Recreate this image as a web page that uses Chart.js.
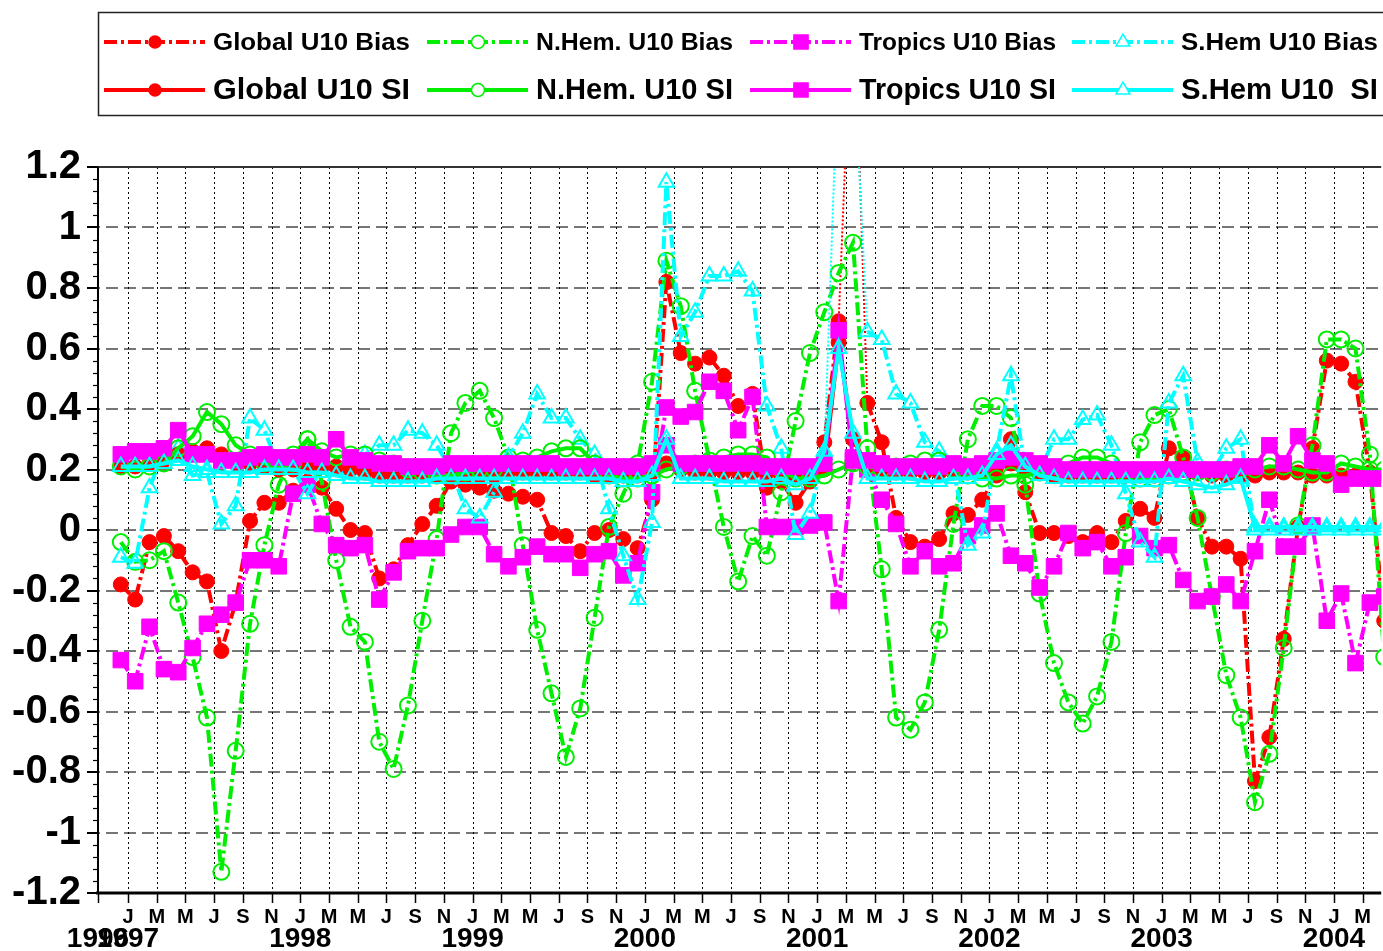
<!DOCTYPE html>
<html>
<head>
<meta charset="utf-8">
<script src="https://cdn.jsdelivr.net/npm/chart.js@4.4.1/dist/chart.umd.min.js"></script>
<style>
  html, body { margin: 0; padding: 0; background: #fff; }
  #wrap { width: 1383px; height: 951px; }
</style>
</head>
<body>
<div id="wrap"><canvas id="myChart" width="1383" height="951"></canvas></div>
<script>
'use strict';

// x is counted in months from Jan 1997; first value of every series is Dec 1996
let firstMonth = -1;
let monthLetters = ['J','F','M','A','M','J','J','A','S','O','N','D'];
let yearLabels = ['1996','1997','1998','1999','2000','2001','2002','2003','2004'];
let seriesNames = ['Global U10 Bias','N.Hem. U10 Bias','Tropics U10 Bias','S.Hem U10 Bias',
                   'Global U10 SI','N.Hem. U10 SI','Tropics U10 SI','S.Hem U10  SI'];

let globalBias = [-0.18,
  -0.23,-0.04,-0.02,-0.07,-0.14,-0.17,-0.40,-0.24,0.03,0.09,0.09,0.13,
  0.16,0.14,0.07,0.00,-0.01,-0.16,-0.13,-0.05,0.02,0.08,0.16,0.15,
  0.14,0.13,0.12,0.11,0.10,-0.01,-0.02,-0.07,-0.01,0.00,-0.03,-0.06,
  0.10,0.82,0.585,0.55,0.57,0.51,0.41,0.45,0.14,0.16,0.09,0.16,
  0.29,0.69,1.85,0.42,0.29,0.04,-0.04,-0.055,-0.03,0.055,0.05,0.10,
  0.18,0.30,0.125,-0.01,-0.01,-0.02,-0.04,-0.01,-0.04,0.03,0.07,0.04,
  0.27,0.24,0.04,-0.055,-0.055,-0.095,-0.83,-0.685,-0.36,0.01,0.27,0.56,
  0.55,0.49,0.19,-0.30];
let nhBias = [-0.04,
  -0.105,-0.10,-0.07,-0.24,-0.42,-0.62,-1.13,-0.73,-0.31,-0.05,0.15,0.25,
  0.30,0.16,-0.10,-0.32,-0.37,-0.70,-0.79,-0.58,-0.30,-0.03,0.32,0.42,
  0.46,0.37,0.24,-0.05,-0.33,-0.54,-0.75,-0.59,-0.29,0.01,0.12,0.22,
  0.49,0.89,0.74,0.46,0.23,0.01,-0.17,-0.02,-0.085,0.125,0.36,0.585,
  0.72,0.85,0.95,0.27,-0.13,-0.62,-0.66,-0.57,-0.33,0.02,0.30,0.41,
  0.41,0.37,0.15,-0.21,-0.44,-0.57,-0.64,-0.55,-0.37,-0.01,0.29,0.38,
  0.40,0.24,0.04,-0.22,-0.48,-0.62,-0.90,-0.74,-0.39,0.015,0.28,0.63,
  0.63,0.60,0.25,-0.42];
let tropBias = [-0.43,
  -0.50,-0.32,-0.46,-0.47,-0.39,-0.31,-0.28,-0.24,-0.10,-0.10,-0.12,0.12,
  0.15,0.02,-0.05,-0.06,-0.05,-0.23,-0.14,-0.07,-0.06,-0.06,-0.015,0.01,
  0.01,-0.08,-0.12,-0.09,-0.055,-0.08,-0.08,-0.125,-0.08,-0.07,-0.15,-0.11,
  0.125,0.405,0.375,0.39,0.49,0.46,0.33,0.44,0.01,0.01,0.01,0.015,
  0.025,-0.235,0.24,0.20,0.10,0.02,-0.12,-0.07,-0.12,-0.11,-0.02,0.015,
  0.055,-0.085,-0.11,-0.19,-0.12,-0.01,-0.06,-0.04,-0.12,-0.09,-0.02,-0.06,
  -0.05,-0.165,-0.235,-0.22,-0.18,-0.235,-0.07,0.10,-0.055,-0.055,0.015,-0.30,
  -0.21,-0.44,-0.24,-0.22];
let shBias = [-0.09,
  -0.11,0.14,0.26,0.27,0.18,0.19,0.02,0.08,0.37,0.33,0.21,0.20,
  0.12,0.20,0.18,0.20,0.25,0.28,0.28,0.33,0.32,0.28,0.20,0.07,
  0.04,0.125,0.24,0.32,0.45,0.37,0.37,0.30,0.25,0.07,-0.085,-0.23,
  0.025,1.15,0.64,0.72,0.84,0.84,0.855,0.79,0.41,0.27,-0.015,0.055,
  0.25,1.6,1.6,0.655,0.63,0.45,0.42,0.29,0.26,0.20,-0.05,-0.01,
  0.26,0.51,0.20,0.195,0.30,0.30,0.365,0.38,0.28,0.12,-0.04,-0.09,
  0.42,0.51,0.225,0.19,0.27,0.30,0.00,0.00,0.00,0.00,0.00,0.00,
  0.00,0.00,0.00,0.00];
let globalSI = [0.21,
  0.21,0.22,0.23,0.25,0.26,0.27,0.25,0.22,0.22,0.21,0.20,0.20,
  0.21,0.21,0.21,0.20,0.19,0.18,0.18,0.18,0.18,0.18,0.18,0.18,
  0.18,0.18,0.19,0.19,0.19,0.19,0.19,0.19,0.18,0.18,0.18,0.18,
  0.19,0.22,0.20,0.19,0.19,0.19,0.19,0.19,0.19,0.18,0.17,0.18,
  0.20,0.62,0.30,0.21,0.20,0.19,0.19,0.19,0.19,0.19,0.19,0.19,
  0.21,0.22,0.20,0.19,0.18,0.18,0.18,0.18,0.18,0.18,0.18,0.18,
  0.19,0.20,0.19,0.18,0.18,0.18,0.18,0.19,0.19,0.19,0.18,0.18,
  0.18,0.18,0.18,0.18];
let nhSI = [0.21,
  0.20,0.21,0.22,0.27,0.31,0.39,0.35,0.28,0.25,0.22,0.21,0.22,
  0.30,0.26,0.24,0.25,0.25,0.23,0.22,0.20,0.19,0.18,0.18,0.19,
  0.20,0.20,0.22,0.23,0.24,0.26,0.27,0.27,0.22,0.18,0.17,0.17,
  0.18,0.20,0.21,0.22,0.22,0.24,0.25,0.25,0.24,0.20,0.17,0.17,
  0.18,0.20,0.22,0.21,0.20,0.21,0.22,0.23,0.23,0.20,0.18,0.17,
  0.17,0.18,0.18,0.19,0.20,0.22,0.24,0.24,0.22,0.19,0.17,0.17,
  0.18,0.19,0.19,0.19,0.20,0.20,0.20,0.21,0.21,0.20,0.19,0.19,
  0.22,0.21,0.20,0.20];
let tropSI = [0.25,
  0.26,0.26,0.27,0.33,0.25,0.25,0.23,0.23,0.24,0.25,0.24,0.24,
  0.25,0.24,0.30,0.24,0.23,0.22,0.22,0.21,0.21,0.21,0.22,0.22,
  0.22,0.22,0.22,0.22,0.22,0.22,0.21,0.21,0.21,0.21,0.21,0.21,
  0.22,0.28,0.22,0.22,0.22,0.22,0.22,0.22,0.21,0.21,0.21,0.21,
  0.22,0.66,0.23,0.23,0.22,0.21,0.21,0.21,0.21,0.22,0.21,0.22,
  0.23,0.24,0.23,0.22,0.21,0.20,0.20,0.20,0.20,0.20,0.20,0.20,
  0.20,0.20,0.20,0.20,0.20,0.21,0.21,0.28,0.22,0.31,0.23,0.22,
  0.15,0.17,0.17,0.17];
let shSI = [0.21,
  0.21,0.21,0.22,0.23,0.21,0.20,0.19,0.19,0.19,0.20,0.20,0.20,
  0.19,0.19,0.18,0.17,0.17,0.16,0.16,0.16,0.16,0.17,0.17,0.17,
  0.17,0.17,0.17,0.17,0.17,0.17,0.17,0.17,0.17,0.17,0.16,0.16,
  0.18,0.30,0.17,0.17,0.17,0.16,0.16,0.16,0.16,0.17,0.15,0.17,
  0.26,0.60,0.32,0.17,0.17,0.17,0.17,0.16,0.16,0.17,0.17,0.18,
  0.25,0.28,0.21,0.18,0.17,0.16,0.16,0.16,0.16,0.16,0.16,0.16,
  0.17,0.16,0.15,0.14,0.15,0.17,0.01,0.01,0.01,0.01,0.01,0.01,
  0.01,0.01,0.01,0.01];

let yMin = -1.2, yMax = 1.2;
let xMin = -2.09, xMax = 87.29;
let tickMonths = [];
for (let m = 0; m <= 86; m += 2) tickMonths.push(m);
let yTicks = [];
for (let i = -6; i <= 6; i++) yTicks.push(i / 5);

let fam = '"Liberation Sans", Arial, Helvetica, sans-serif';
let red = '#ff0000', green = '#00ee00', magenta = '#ff00ff', cyan = '#00ffff';
let biasDash = [13, 4, 3, 4];

function toPoints(values) {
    let pts = [];
    for (let i = 0; i < values.length; i++) {
        pts.push({x: firstMonth + i + 0.5, y: values[i]});
    }
    return pts;
}

// segments running to a value above the top of the axis are drawn thin and dotted
function offTop(ctx) {
    return ctx.p0.parsed.y > yMax || ctx.p1.parsed.y > yMax;
}

let markers = [
    {pointStyle: 'circle', radius: 7.5, fill: red, color: red, bw: 1, key: 6},
    {pointStyle: 'circle', radius: 8, fill: 'rgba(0,0,0,0)', color: green, bw: 2, key: 6.5},
    {pointStyle: 'rect', radius: 11, fill: magenta, color: magenta, bw: 1, key: 10},
    {pointStyle: 'triangle', radius: 9, fill: 'rgba(0,0,0,0)', color: cyan, bw: 2, key: 8}
];
let allValues = [globalBias, nhBias, tropBias, shBias, globalSI, nhSI, tropSI, shSI];

let datasets = [];
for (let i = 0; i < allValues.length; i++) {
    let mk = markers[i % 4];
    let isBias = i < 4;
    datasets.push({
        label: seriesNames[i],
        data: toPoints(allValues[i]),
        borderColor: mk.color,
        borderWidth: 4,
        borderDash: isBias ? biasDash : [],
        pointStyle: mk.pointStyle,
        pointRadius: mk.radius,
        pointBackgroundColor: mk.fill,
        pointBorderColor: mk.color,
        pointBorderWidth: mk.bw,
        tension: 0,
        order: 8 - i,
        segment: {
            borderDash: ctx => offTop(ctx) ? [2, 2] : undefined,
            borderWidth: ctx => offTop(ctx) ? 2 : undefined
        }
    });
}

let frame = {
    id: 'frame',
    beforeDatasetsDraw(chart) {
        let ctx = chart.ctx, a = chart.chartArea;
        let xs = chart.scales.x, ys = chart.scales.y;
        ctx.save();
        // horizontal dashed grid
        ctx.strokeStyle = '#4a4a4a';
        ctx.lineWidth = 1.5;
        ctx.setLineDash([12, 6]);
        for (let v of yTicks) {
            if (v <= yMin || v >= yMax) continue;
            let y = Math.round(ys.getPixelForValue(v));
            ctx.beginPath(); ctx.moveTo(a.left - 10, y); ctx.lineTo(a.right, y); ctx.stroke();
        }
        // vertical dotted grid
        ctx.strokeStyle = '#000';
        ctx.lineWidth = 1;
        ctx.setLineDash([2, 3]);
        for (let m of tickMonths) {
            let x = Math.round(xs.getPixelForValue(m)) + 0.5;
            ctx.beginPath(); ctx.moveTo(x, a.top); ctx.lineTo(x, a.bottom); ctx.stroke();
        }
        ctx.setLineDash([]);
        // frame top
        ctx.strokeStyle = '#333';
        ctx.lineWidth = 2;
        ctx.beginPath(); ctx.moveTo(a.left, a.top); ctx.lineTo(a.right, a.top); ctx.stroke();
        // y axis with ticks
        ctx.strokeStyle = '#000';
        ctx.beginPath(); ctx.moveTo(a.left, a.top); ctx.lineTo(a.left, a.bottom); ctx.stroke();
        for (let v of yTicks) {
            let y = Math.round(ys.getPixelForValue(v));
            ctx.beginPath(); ctx.moveTo(a.left - 11, y); ctx.lineTo(a.left, y); ctx.stroke();
        }
        ctx.lineWidth = 1.2;
        for (let i = -30; i <= 30; i++) {
            if (i % 5 === 0) continue;
            let y = Math.round(ys.getPixelForValue(i * 0.04)) + 0.5;
            ctx.beginPath(); ctx.moveTo(a.left - 5, y); ctx.lineTo(a.left, y); ctx.stroke();
        }
        // x axis with ticks
        ctx.lineWidth = 3;
        ctx.beginPath(); ctx.moveTo(a.left - 2, a.bottom); ctx.lineTo(a.right, a.bottom); ctx.stroke();
        ctx.lineWidth = 1.5;
        let xt = [xMin].concat(tickMonths);
        for (let m of xt) {
            let x = Math.round(xs.getPixelForValue(m)) + 0.5;
            ctx.beginPath(); ctx.moveTo(x, a.bottom); ctx.lineTo(x, a.bottom + 10); ctx.stroke();
        }
        ctx.restore();
    },
    afterDraw(chart) {
        let ctx = chart.ctx;
        let xs = chart.scales.x;
        ctx.save();
        // year labels under the month letters
        ctx.fillStyle = '#000';
        ctx.font = 'bold 28px ' + fam;
        ctx.textAlign = 'center';
        ctx.textBaseline = 'middle';
        for (let i = 0; i < yearLabels.length; i++) {
            let m = i === 0 ? xMin : (i - 1) * 12;
            ctx.fillText(yearLabels[i], xs.getPixelForValue(m), 939);
        }
        // legend box
        ctx.strokeStyle = '#222';
        ctx.lineWidth = 1.5;
        ctx.strokeRect(98.5, 12.5, 1290, 103);
        let colX = [104, 427, 750, 1072];
        let rowY = [42, 90];
        let rowFont = [24, 29];
        for (let i = 0; i < seriesNames.length; i++) {
            let col = i % 4, row = Math.floor(i / 4);
            let mk = markers[col];
            let x0 = colX[col], y0 = rowY[row];
            ctx.strokeStyle = mk.color;
            ctx.lineWidth = 4;
            ctx.setLineDash(row === 0 ? biasDash : []);
            ctx.beginPath(); ctx.moveTo(x0, y0); ctx.lineTo(x0 + 101, y0); ctx.stroke();
            ctx.setLineDash([]);
            ctx.fillStyle = mk.fill === 'rgba(0,0,0,0)' ? '#fff' : mk.fill;
            ctx.strokeStyle = mk.color;
            ctx.lineWidth = 1.5;
            Chart.helpers.drawPoint(ctx, {pointStyle: mk.pointStyle, radius: mk.key, rotation: 0, borderWidth: 1.5}, x0 + 51, y0);
            // label squeezed to the width it has in the picture
            ctx.fillStyle = '#000';
            ctx.font = 'bold ' + rowFont[row] + 'px ' + fam;
            ctx.textAlign = 'left';
            ctx.textBaseline = 'middle';
            let w = ctx.measureText(seriesNames[i]).width;
            ctx.save();
            ctx.translate(x0 + 109, y0 + 1);
            ctx.scale(197 / w, 1);
            ctx.fillText(seriesNames[i], 0, 0);
            ctx.restore();
        }
        ctx.restore();
    }
};

let ctx = document.getElementById('myChart').getContext('2d');
let myChart = new Chart(ctx, {
    type: 'line',
    data: {datasets: datasets},
    options: {
        responsive: false,
        animation: false,
        devicePixelRatio: 1,
        layout: {autoPadding: false, padding: {top: 167, right: 0, bottom: 0, left: 0}},
        plugins: {legend: {display: false}, tooltip: {enabled: false}},
        scales: {
            x: {
                type: 'linear',
                min: xMin,
                max: xMax,
                grid: {display: false, drawTicks: false},
                border: {display: false},
                afterBuildTicks: s => { s.ticks = tickMonths.map(v => ({value: v})); },
                afterFit: s => { s.height = 58; },
                ticks: {
                    autoSkip: false, maxRotation: 0, padding: 12, color: '#000',
                    font: {family: fam, size: 20, weight: 'bold'},
                    callback: v => monthLetters[((v % 12) + 12) % 12]
                }
            },
            y: {
                min: yMin,
                max: yMax,
                grid: {display: false, drawTicks: false},
                border: {display: false},
                afterBuildTicks: s => { s.ticks = yTicks.map(v => ({value: v})); },
                afterFit: s => { s.width = 98; },
                ticks: {
                    padding: 17, color: '#000',
                    font: {family: fam, size: 40, weight: 'bold'},
                    callback: v => String(parseFloat(v.toFixed(1)))
                }
            }
        }
    },
    plugins: [frame]
});
</script>
</body>
</html>
